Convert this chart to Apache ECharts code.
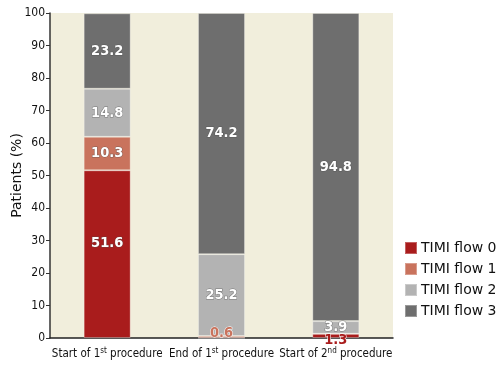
<!DOCTYPE html>
<html><head><meta charset="utf-8">
<script src="https://cdn.jsdelivr.net/npm/echarts@6/dist/echarts.min.js"></script>
<style>html,body{margin:0;padding:0;background:#fff}#c{width:502px;height:372px}</style>
</head><body><div id="c"></div>
<script>
const categories = ['Start of 1{sup|st} procedure', 'End of 1{sup|st} procedure', 'Start of 2{sup|nd} procedure'];
const seriesNames = ['TIMI flow 0', 'TIMI flow 1', 'TIMI flow 2', 'TIMI flow 3'];
const flow0 = [51.6, 0, 1.3];
const flow1 = [10.3, 0.6, 0];
const flow2 = [14.8, 25.2, 3.9];
const flow3 = [23.2, 74.2, 94.8];
const yTicks = [0, 10, 20, 30, 40, 50, 60, 70, 80, 90, 100];

const colors = ['#a91c1c', '#c9735d', '#b3b3b3', '#6e6e6e'];
const labelFont = '"DejaVu Sans Condensed","DejaVu Sans",sans-serif';
const baseLabel = {
  show: true, position: 'inside', color: '#fff', fontFamily: labelFont, fontStyle: 'condensed',
  fontWeight: 'bold', fontSize: 14.5, textBorderColor: 'rgba(80,80,80,0.6)', textBorderWidth: 1,
  formatter: p => p.value > 0 ? p.value.toFixed(1) : ''
};
function mk(name, vals, idx, special) {
  return {
    name, type: 'bar', stack: 's', barWidth: 47,
    itemStyle: { color: colors[idx], borderColor: 'rgba(255,255,255,0.3)', borderWidth: 1 },
    label: baseLabel,
    data: vals.map((v, i) => {
      const o = { value: v };
      if (special && special[i]) o.label = Object.assign({}, baseLabel, special[i]);
      return o;
    })
  };
}
const chart = echarts.init(document.getElementById('c'));
chart.setOption({
  animation: false,
  backgroundColor: '#fff',
  grid: { left: 50, right: 109, top: 13, bottom: 34, containLabel: false, outerBoundsMode: 'none',
    show: true, backgroundColor: '#f1eedc', borderWidth: 0 },
  legend: {
    orient: 'vertical', left: 404, top: 241, padding: 0, itemWidth: 12, itemHeight: 12, itemGap: 7,
    icon: 'rect',
    textStyle: { fontFamily: '"DejaVu Sans",sans-serif', fontSize: 14, color: '#111', padding: [0, 0, 0, -1] },
    data: seriesNames
  },
  xAxis: {
    type: 'category', data: categories,
    axisLine: { lineStyle: { color: '#222', width: 1.5 } },
    axisTick: { show: false },
    axisLabel: {
      interval: 0, margin: 9, color: '#111', fontFamily: labelFont, fontStyle: 'condensed', fontSize: 11.5,
      rich: { sup: { fontSize: 8, verticalAlign: 'top', padding: [0, 0, 7, 0], fontFamily: labelFont, fontStyle: 'condensed', color: '#111' } }
    }
  },
  yAxis: {
    type: 'value', min: 0, max: 100, interval: 10,
    name: 'Patients (%)', nameLocation: 'middle', nameGap: 26, nameMoveOverlap: false,
    nameTextStyle: { fontFamily: '"DejaVu Sans",sans-serif', fontSize: 14, color: '#111' },
    axisLine: { show: true, lineStyle: { color: '#333', width: 1.5 } },
    axisTick: { show: true, length: 4, lineStyle: { color: '#333' } },
    splitLine: { show: false },
    axisLabel: { color: '#111', fontFamily: labelFont, fontStyle: 'condensed', fontSize: 12, margin: 5,
      formatter: v => yTicks.includes(v) ? String(v) : '' }
  },
  series: [
    mk(seriesNames[0], flow0, 0, [{ offset: [0, -11] }, null, { position: 'insideBottom', offset: [0, 15], color: '#a91c1c', textBorderColor: '#fff', textBorderWidth: 1 }]),
    mk(seriesNames[1], flow1, 1, [null, { position: 'insideBottom', offset: [0, 8], color: '#c9735d', textBorderColor: '#fff', textBorderWidth: 1 }, null]),
    mk(seriesNames[2], flow2, 2, null),
    mk(seriesNames[3], flow3, 3, null)
  ]
});
</script></body></html>
